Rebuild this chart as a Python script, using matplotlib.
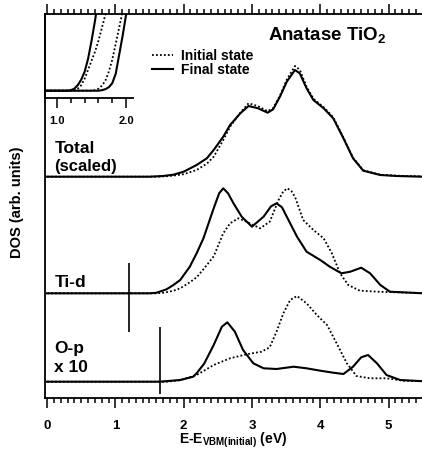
import matplotlib
matplotlib.use("Agg")
import matplotlib.pyplot as plt
from matplotlib.ticker import MultipleLocator

plt.rcParams['font.family'] = ['Liberation Sans', 'DejaVu Sans']
plt.rcParams['font.weight'] = 'bold'
plt.rcParams['mathtext.fontset'] = 'custom'
plt.rcParams['mathtext.rm'] = 'Liberation Sans:bold'
plt.rcParams['mathtext.bf'] = 'Liberation Sans:bold'
plt.rcParams['mathtext.it'] = 'Liberation Sans:bold'

# ---------------- data (energy in eV, DOS in arb. units above each baseline) ----------
total_fin_E = [0.0, 1.5, 1.7, 1.85, 2.0, 2.19, 2.34, 2.44, 2.58, 2.68, 2.83, 2.95, 3.09, 3.23, 3.31,
               3.41, 3.51, 3.63, 3.70, 3.80, 3.90, 4.05, 4.19, 4.34, 4.48, 4.63, 4.88, 5.12, 5.5]
total_fin = [0, 0, 0.7, 2, 5, 11.7, 18.4, 26.7, 40, 51.7, 63.4, 70.7, 68.4, 64, 67.4,
             80, 95, 106.7, 103.4, 88.4, 76.7, 68.4, 58.4, 38.4, 18.4, 6, 1.7, 0.7, 0]
total_ini_E = [0.0, 1.6, 1.76, 1.9, 2.0, 2.19, 2.34, 2.44, 2.58, 2.68, 2.83, 2.95, 3.09, 3.23, 3.31,
               3.41, 3.51, 3.63, 3.70, 3.80, 3.90, 4.05, 4.19, 4.34, 4.48, 4.63, 4.88, 5.12, 5.5]
total_ini = [0, 0, 0.5, 1.5, 2.5, 6.7, 13, 20, 36.7, 50, 64, 73.4, 70.5, 65.5, 68.5,
             81, 97, 110.7, 107, 90, 78, 69.5, 59.5, 39, 19, 6.5, 2, 1, 0.3]

tid_fin_E = [0.0, 1.5, 1.6, 1.75, 1.85, 1.95, 2.09, 2.19, 2.29, 2.44, 2.52, 2.58, 2.65, 2.73, 2.85,
             3.0, 3.17, 3.28, 3.36, 3.44, 3.51, 3.66, 3.80, 4.0, 4.14, 4.31, 4.44, 4.60, 4.73, 4.88,
             5.02, 5.5]
tid_fin = [0, 0, 0.5, 4, 8.3, 13.3, 26.6, 40, 55, 85, 100, 105, 100, 90, 76.6,
           66.6, 76.6, 87, 90, 86, 76.6, 56.6, 41.6, 33.3, 26.6, 20, 21.6, 25.6, 20, 8.3,
           1.6, 0]
tid_ini_E = [0.0, 1.6, 1.70, 1.85, 1.95, 2.09, 2.19, 2.29, 2.44, 2.58, 2.68, 2.80, 2.92, 3.12,
             3.26, 3.39, 3.46, 3.52, 3.58, 3.63, 3.75, 3.90, 4.05, 4.17, 4.29, 4.41, 4.58, 4.88,
             5.37, 5.5]
tid_ini = [0, 0, 0.5, 2.5, 5, 11, 16, 24, 37, 60, 70, 75, 71.6, 65,
           71.6, 93.3, 102, 105, 102, 96.6, 73.3, 63.3, 55, 40, 20, 8.3, 2.6, 1.5,
           0.5, 0.3]

op_fin_E = [0.0, 1.65, 1.95, 2.14, 2.19, 2.30, 2.44, 2.56, 2.64, 2.75, 2.87, 3.02, 3.17, 3.36,
            3.61, 3.80, 4.0, 4.19, 4.34, 4.48, 4.60, 4.70, 4.83, 4.97, 5.17, 5.5]
op_fin = [0, 0, 1.7, 5, 8.4, 18, 36.7, 55, 59.4, 50, 31.7, 18.4, 13.4, 12.7,
          15, 13.4, 11, 9, 7.7, 15, 24.4, 26.7, 18.4, 6.7, 1.7, 0.5]
op_ini_E = [0.0, 1.75, 1.95, 2.19, 2.44, 2.68, 2.92, 3.14, 3.26, 3.36, 3.46, 3.56, 3.66, 3.80,
            3.95, 4.10, 4.24, 4.39, 4.53, 4.73, 4.97, 5.22, 5.5]
op_ini = [0, 0, 1.5, 6.7, 16.7, 23.4, 27.4, 30, 34.4, 50, 68.4, 81.7, 85.7, 78.4,
          66.7, 56.7, 38.4, 18.4, 5.7, 3.4, 3.4, 1, 0.5]

baselines = {'total': 221.3, 'tid': 104.7, 'op': 16.3}

# band-edge markers: energy, low, high (same units as DOS axis)
marker_E = [1.20, 1.65]
marker_lo = [66, 4]
marker_hi = [135, 71]

# inset: onsets
ins_a_fin_E = [0.84, 1.15, 1.20, 1.25, 1.30, 1.35, 1.40, 1.45, 1.50, 1.55, 1.60]
ins_a_fin = [0, 0, 0.5, 2, 5.5, 11, 19, 32, 50, 70, 92]
ins_a_ini_E = [0.84, 1.20, 1.25, 1.30, 1.35, 1.40, 1.45, 1.50, 1.55, 1.60, 1.65, 1.70, 1.75]
ins_a_ini = [0, 0, 0.5, 2, 5.5, 12, 21, 30, 39, 50, 63, 76, 90]
ins_b_ini_E = [0.84, 1.50, 1.55, 1.60, 1.65, 1.70, 1.75, 1.80, 1.85, 1.90, 1.95, 2.00]
ins_b_ini = [0, 0, 0.5, 2, 5, 10, 19, 31, 47, 63, 80, 97]
ins_b_fin_E = [0.84, 1.60, 1.65, 1.70, 1.75, 1.80, 1.85, 1.90, 1.95, 2.00, 2.05]
ins_b_fin = [0, 0, 0.5, 1.5, 3.5, 7.5, 17, 36, 55, 76, 98]

# ---------------- figure ----------------
W, H = 422, 453
fig = plt.figure(figsize=(W / 100, H / 100), dpi=100)
ax = fig.add_axes([45 / W, (H - 398) / H, (422 - 45) / W, (398 - 14) / H])

dot = (0, (1, 1.2))
lw_s, lw_d = 1.5, 1.3

def shift(vals, key):
    return [v + baselines[key] for v in vals]

l_ini, = ax.plot(total_ini_E, shift(total_ini, 'total'), color='black', lw=lw_d, ls=dot,
                 label='Initial state')
l_fin, = ax.plot(total_fin_E, shift(total_fin, 'total'), color='black', lw=lw_s,
                 label='Final state')
ax.plot(tid_ini_E, shift(tid_ini, 'tid'), color='black', lw=lw_d, ls=dot)
ax.plot(tid_fin_E, shift(tid_fin, 'tid'), color='black', lw=lw_s)
ax.plot(op_ini_E, shift(op_ini, 'op'), color='black', lw=lw_d, ls=dot)
ax.plot(op_fin_E, shift(op_fin, 'op'), color='black', lw=lw_s)
ax.vlines(marker_E, marker_lo, marker_hi, color='black', lw=1.2)

ax.set_xlim(-0.03, 5.49)
ax.set_ylim(0, 384)

ax.spines['right'].set_visible(False)
for s in ['left', 'bottom', 'top']:
    ax.spines[s].set_linewidth(1.3)
ax.set_yticks([])
ax.xaxis.set_major_locator(MultipleLocator(1))
ax.xaxis.set_minor_locator(MultipleLocator(0.1))
ax.tick_params(axis='x', which='both', top=True, bottom=True, direction='out', width=1.1,
               labelsize=9.5, pad=9)
ax.tick_params(axis='x', which='major', length=7)
ax.tick_params(axis='x', which='minor', length=3.5)
ax.set_xticks([0, 1, 2, 3, 4, 5])
ax.set_xticklabels(['0', '1', '2', '3', '4', '5'], fontweight='bold')

ax.set_xlabel(r'E-E$_{\mathrm{VBM(initial)}}$ (eV)', fontsize=10, fontweight='bold', labelpad=-1)
fig.text(17 / W, 1 - 202 / H, 'DOS (arb. units)', rotation=90, ha='center', va='center',
         fontsize=10.5, fontweight='bold')

# curve labels
ax.text(0.107, 244.7, 'Total', fontsize=12.5, fontweight='bold', va='baseline')
ax.text(0.107, 227, '(scaled)', fontsize=12, fontweight='bold', va='baseline')
ax.text(0.107, 110.7, 'Ti-d', fontsize=12.5, fontweight='bold', va='baseline')
ax.text(0.107, 45, 'O-p', fontsize=12.5, fontweight='bold', va='baseline')
ax.text(0.107, 26, 'x 10', fontsize=12.5, fontweight='bold', va='baseline')

ax.text(3.24, 358, r'Anatase TiO$_2$', fontsize=13.5, fontweight='bold', va='baseline',
        ha='left')

ax.legend(handles=[l_ini, l_fin], loc='upper left', bbox_to_anchor=(152 / W, 1 - 49 / H),
          bbox_transform=fig.transFigure, frameon=False, handlelength=1.5,
          handletextpad=0.6, labelspacing=0.0, borderpad=0, borderaxespad=0,
          prop={'weight': 'bold', 'size': 10})

# inset
axi = fig.add_axes([45 / W, (H - 98) / H, (133 - 45) / W, (98 - 14) / H])
axi.patch.set_alpha(0)
axi.plot(ins_a_ini_E, ins_a_ini, color='black', lw=lw_d, ls=dot)
axi.plot(ins_a_fin_E, ins_a_fin, color='black', lw=lw_s)
axi.plot(ins_b_ini_E, ins_b_ini, color='black', lw=lw_d, ls=dot)
axi.plot(ins_b_fin_E, ins_b_fin, color='black', lw=lw_s)
axi.set_xlim(0.826, 2.10)
axi.set_ylim(-7.3, 76.7)
axi.spines['right'].set_visible(False)
axi.spines['top'].set_visible(False)
for s in ['left', 'bottom']:
    axi.spines[s].set_linewidth(1.3)
axi.set_yticks([])
axi.set_xticks([1.0, 2.0])
axi.set_xticklabels(['1.0', '2.0'], fontweight='bold')
axi.xaxis.set_minor_locator(MultipleLocator(0.2))
axi.tick_params(axis='x', which='both', direction='out', width=1.1, labelsize=8, pad=6)
axi.tick_params(axis='x', which='major', length=7)
axi.tick_params(axis='x', which='minor', length=3.5)

fig.savefig('out.png', dpi=100)
